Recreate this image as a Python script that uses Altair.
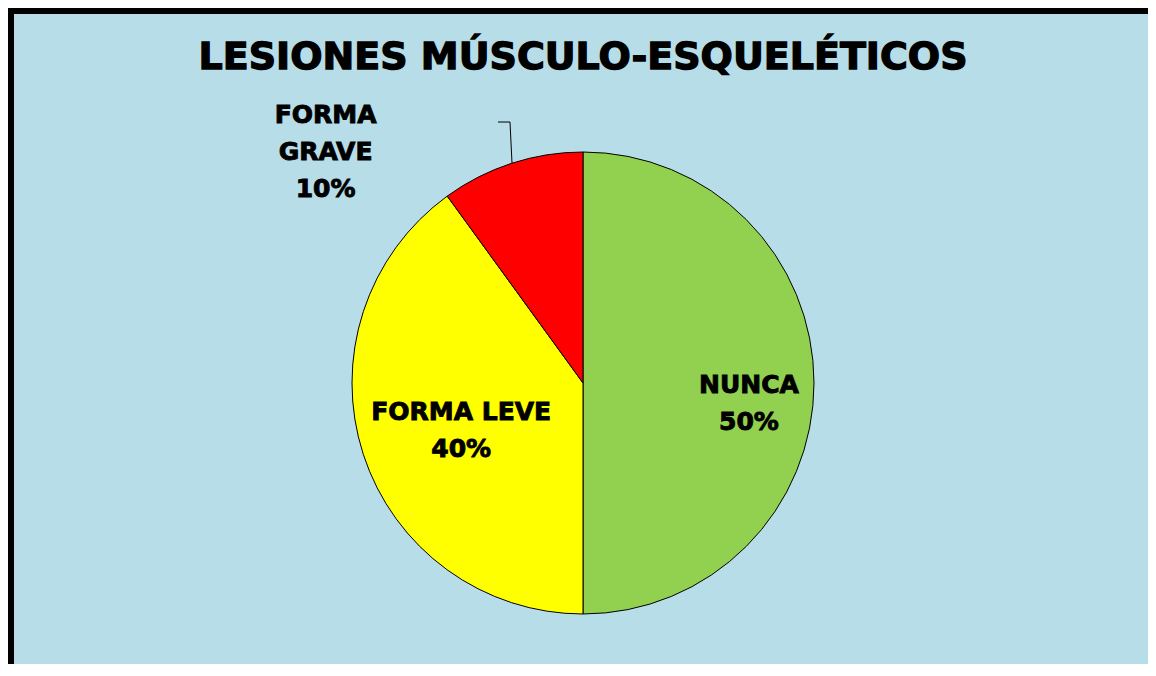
import altair as alt
import pandas as pd

# ---- data ----
categories = ["NUNCA", "FORMA LEVE", "FORMA GRAVE"]
percentages = [50, 40, 10]
label_names = ["NUNCA", "FORMA LEVE", "FORMA\nGRAVE"]
slice_colors = ["#92D050", "#FFFF00", "#FF0000"]
title_text = "LESIONES MÚSCULO-ESQUELÉTICOS"

df = pd.DataFrame({
    "category": categories,
    "value": percentages,
    "order": list(range(len(categories))),
    "label": [f"{n}\n{v}%" for n, v in zip(label_names, percentages)],
})

# ---- layout / style ----
W, H = 1140, 656
CX, CY, R = 575, 375, 231
FONT = "DejaVu Sans"
BG = "#B7DDE8"

base = alt.Chart(df).encode(
    theta=alt.Theta("value:Q", stack=True),
    order=alt.Order("order:Q"),
)

pie = base.mark_arc(radius=R, stroke="black", strokeWidth=1).encode(
    x=alt.value(CX),
    y=alt.value(CY),
    color=alt.Color("category:N",
                    scale=alt.Scale(domain=categories, range=slice_colors),
                    legend=None),
)


def label_layer(cat, radius, dx, dy):
    return base.mark_text(
        radius=radius, dx=dx, dy=dy, font=FONT, fontSize=25, fontWeight="bold",
        lineBreak="\n", lineHeight=37, color="black", stroke="black", strokeWidth=0.9,
        align="center", baseline="middle",
    ).encode(
        x=alt.value(CX),
        y=alt.value(CY),
        text=alt.condition(f"datum.category == '{cat}'", alt.Text("label:N"), alt.value("")),
    )


lbl_nunca = label_layer("NUNCA", 166, 0, 2)
lbl_leve = label_layer("FORMA LEVE", 127, -1, -10)
lbl_grave = label_layer("FORMA GRAVE", 231, -186, -48)

one = alt.Data(values=[{}])

title = alt.Chart(one).mark_text(
    text=title_text, font=FONT, fontSize=38, fontWeight="bold",
    align="center", baseline="alphabetic", color="black", stroke="black", strokeWidth=1.3,
).encode(x=alt.value(575), y=alt.value(61))

border_left = alt.Chart(one).mark_rule(color="black", strokeWidth=6).encode(
    x=alt.value(3), y=alt.value(0), y2=alt.value(H))
border_top = alt.Chart(one).mark_rule(color="black", strokeWidth=6).encode(
    x=alt.value(0), x2=alt.value(W), y=alt.value(3))

leader_h = alt.Chart(one).mark_rule(color="black", strokeWidth=1).encode(
    x=alt.value(490), x2=alt.value(502), y=alt.value(114))
leader_v = alt.Chart(one).mark_rule(color="black", strokeWidth=1).encode(
    x=alt.value(502), x2=alt.value(504), y=alt.value(114), y2=alt.value(155))

chart = alt.layer(
    pie, lbl_nunca, lbl_leve, lbl_grave, leader_h, leader_v, title,
    border_left, border_top,
).properties(
    width=W, height=H, background=BG, padding=0, autosize="none",
).configure_view(stroke=None)

chart.save("out.html", embed_options={"renderer": "svg", "actions": False})
